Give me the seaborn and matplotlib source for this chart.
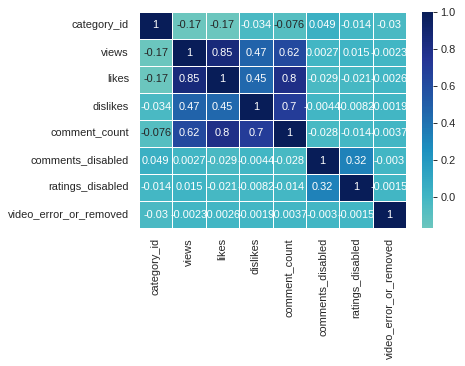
import numpy as np
import pandas as pd
import matplotlib
matplotlib.use('Agg')
import matplotlib.pyplot as plt
import seaborn as sns

labels = ['category_id', 'views', 'likes', 'dislikes', 'comment_count',
          'comments_disabled', 'ratings_disabled', 'video_error_or_removed']

category_id = [1, -0.17, -0.17, -0.034, -0.076, 0.049, -0.014, -0.03]
views = [-0.17, 1, 0.85, 0.47, 0.62, 0.0027, 0.015, -0.0023]
likes = [-0.17, 0.85, 1, 0.45, 0.8, -0.029, -0.021, -0.0026]
dislikes = [-0.034, 0.47, 0.45, 1, 0.7, -0.0044, -0.0082, -0.0019]
comment_count = [-0.076, 0.62, 0.8, 0.7, 1, -0.028, -0.014, -0.0037]
comments_disabled = [0.049, 0.0027, -0.029, -0.0044, -0.028, 1, 0.32, -0.003]
ratings_disabled = [-0.014, 0.015, -0.021, -0.0082, -0.014, 0.32, 1, -0.0015]
video_error_or_removed = [-0.03, -0.0023, -0.0026, -0.0019, -0.0037, -0.003, -0.0015, 1]

corr = pd.DataFrame([category_id, views, likes, dislikes, comment_count,
                     comments_disabled, ratings_disabled, video_error_or_removed],
                    index=labels, columns=labels)

sns.set_theme(style='white')
plt.rcParams['font.family'] = ['Liberation Sans', 'DejaVu Sans']

fig = plt.figure(figsize=(465 / 72, 366 / 72), dpi=72)
ax = fig.add_axes([139 / 465, 1 - 228 / 366, 267 / 465, 216 / 366])
cax = fig.add_axes([422 / 465, 1 - 228 / 366, 11 / 465, 216 / 366])

sns.heatmap(corr, annot=True, cmap='YlGnBu', center=0, linewidths=0.5,
            ax=ax, cbar_ax=cax, annot_kws={'size': 11})
ax.tick_params(length=0, labelsize=11, pad=10)
cax.tick_params(length=4, width=1, labelsize=11, color='#333333')
for s in cax.spines.values():
    s.set_visible(False)

fig.savefig('out.png', dpi=72)
